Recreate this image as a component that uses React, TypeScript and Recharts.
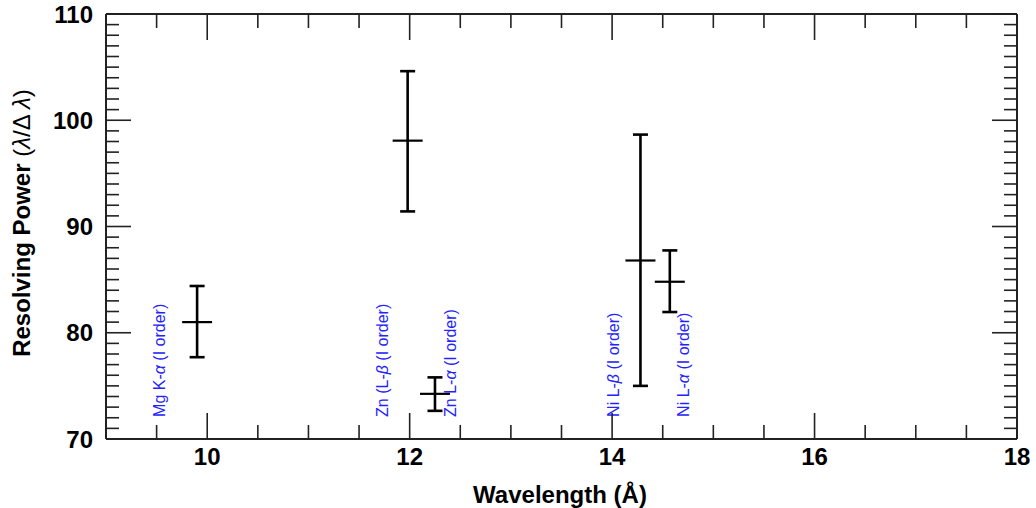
import { ComposedChart, Scatter, XAxis, YAxis, ErrorBar } from 'recharts';

// measured lines
const wavelengths = [9.9, 11.98, 12.25, 14.28, 14.57];
const resolvingPower = [81.0, 98.08, 74.25, 86.8, 84.8];
const errLow = [3.3, 6.66, 1.6, 11.8, 2.85];
const errHigh = [3.4, 6.54, 1.55, 11.85, 2.95];

// line identification labels (rotated, blue)
const labelNames = ['Mg K-|α| (I order)', 'Zn (L-|β| (I order)', 'Zn L-|α| (I order)', 'Ni L-|β| (I order)', 'Ni L-|α| (I order)'];
const labelX = [9.58, 11.79, 12.46, 14.07, 14.76];
const labelY = [72.08, 72.08, 72.08, 72.08, 72.08];

const xTicks = [9, 9.5, 10, 10.5, 11, 11.5, 12, 12.5, 13, 13.5, 14, 14.5, 15, 15.5, 16, 16.5, 17, 17.5, 18];
const xMajor = [10, 12, 14, 16, 18];
const yTicks = [70, 71, 72, 73, 74, 75, 76, 77, 78, 79, 80, 81, 82, 83, 84, 85, 86, 87, 88, 89, 90, 91, 92, 93, 94, 95, 96, 97, 98, 99, 100, 101, 102, 103, 104, 105, 106, 107, 108, 109, 110];
const yMajor = [70, 80, 90, 100, 110];

const points = wavelengths.map((x, i) => ({
  x,
  y: resolvingPower[i],
  err: [errLow[i], errHigh[i]],
}));

const labels = labelNames.map((name, i) => ({ x: labelX[i], y: labelY[i], name }));

const FONT = 'Liberation Sans, Arial, Helvetica, sans-serif';
const AXIS = '#222';

const BottomTick = ({ x, y, payload }: any) => {
  const major = xMajor.includes(payload.value);
  return (
    <g>
      <line x1={x} y1={y} x2={x} y2={y - (major ? 26 : 14)} stroke={AXIS} strokeWidth={1.6} />
      {major && payload.value !== 9 && (
        <text x={x} y={y + 26} textAnchor="middle" fontFamily={FONT} fontWeight="bold" fontSize={24} fill="#000">
          {payload.value}
        </text>
      )}
    </g>
  );
};

const TopTick = ({ x, y, payload }: any) => {
  const major = xMajor.includes(payload.value);
  return <line x1={x} y1={y} x2={x} y2={y + (major ? 26 : 14)} stroke={AXIS} strokeWidth={1.6} />;
};

const LeftTick = ({ x, y, payload }: any) => {
  const major = yMajor.includes(payload.value);
  return (
    <g>
      <line x1={x} y1={y} x2={x + (major ? 25 : 13)} y2={y} stroke={AXIS} strokeWidth={1.6} />
      {major && (
        <text x={x - 13} y={y + 8.5} textAnchor="end" fontFamily={FONT} fontWeight="bold" fontSize={24} fill="#000">
          {payload.value}
        </text>
      )}
    </g>
  );
};

const RightTick = ({ x, y, payload }: any) => {
  const major = yMajor.includes(payload.value);
  return <line x1={x} y1={y} x2={x - (major ? 25 : 13)} y2={y} stroke={AXIS} strokeWidth={1.6} />;
};

const XTitle = ({ viewBox }: any) => (
  <text x={560} y={viewBox.y + 64} textAnchor="middle" fontFamily={FONT} fontWeight="bold" fontSize={24} fill="#000">
    Wavelength (Å)
  </text>
);

const YTitle = ({ viewBox }: any) => {
  const cx = 30;
  const cy = viewBox.y + 209;
  return (
    <text x={cx} y={cy} transform={`rotate(-90, ${cx}, ${cy})`} textAnchor="middle" fontFamily={FONT} fontSize={24} fill="#000">
      <tspan fontWeight="bold">Resolving Power </tspan>
      <tspan>(</tspan>
      <tspan fontStyle="italic">λ</tspan>
      <tspan>/Δ </tspan>
      <tspan fontStyle="italic">λ</tspan>
      <tspan>)</tspan>
    </text>
  );
};

const CenterMark = (props: any) => (
  <line x1={props.cx - 15} y1={props.cy} x2={props.cx + 15} y2={props.cy} stroke="#000" strokeWidth={2.2} />
);

const LineLabel = (props: any) => {
  const parts = String(props.payload.name).split('|');
  return (
    <text
      x={props.cx}
      y={props.cy}
      transform={`rotate(-90, ${props.cx}, ${props.cy})`}
      fontFamily={FONT}
      fontSize={16}
      fill="#2323ff"
    >
      {parts[0]}
      <tspan fontStyle="italic">{parts[1]}</tspan>
      {parts[2]}
    </text>
  );
};

export default function App() {
  return (
    <div style={{ position: 'absolute', left: 0, top: 0, background: '#fff' }}>
      <ComposedChart width={1036} height={508} margin={{ top: 0, right: 0, bottom: 0, left: 0 }}>
        <XAxis
          xAxisId="bottom"
          dataKey="x"
          type="number"
          domain={[9, 18]}
          allowDataOverflow
          ticks={xTicks}
          interval={0}
          height={69}
          tickSize={0}
          tickMargin={0}
          tickLine={false}
          axisLine={{ stroke: AXIS, strokeWidth: 2 }}
          tick={<BottomTick />}
          label={<XTitle />}
        />
        <XAxis
          xAxisId="top"
          orientation="top"
          dataKey="x"
          type="number"
          domain={[9, 18]}
          allowDataOverflow
          ticks={xTicks}
          interval={0}
          height={14}
          tickSize={0}
          tickMargin={0}
          tickLine={false}
          axisLine={{ stroke: AXIS, strokeWidth: 2 }}
          tick={<TopTick />}
        />
        <YAxis
          yAxisId="left"
          dataKey="y"
          type="number"
          domain={[70, 110]}
          allowDataOverflow
          ticks={yTicks}
          interval={0}
          width={106}
          tickSize={0}
          tickMargin={0}
          tickLine={false}
          axisLine={{ stroke: AXIS, strokeWidth: 2 }}
          tick={<LeftTick />}
          label={<YTitle />}
        />
        <YAxis
          yAxisId="right"
          orientation="right"
          dataKey="y"
          type="number"
          domain={[70, 110]}
          allowDataOverflow
          ticks={yTicks}
          interval={0}
          width={19}
          tickSize={0}
          tickMargin={0}
          tickLine={false}
          axisLine={{ stroke: AXIS, strokeWidth: 2 }}
          tick={<RightTick />}
        />
        <Scatter
          data={labels}
          xAxisId="bottom"
          yAxisId="left"
          shape={<LineLabel />}
          isAnimationActive={false}
        />
        <Scatter
          data={labels}
          xAxisId="top"
          yAxisId="right"
          shape={() => null}
          isAnimationActive={false}
        />
        <Scatter
          data={points}
          xAxisId="bottom"
          yAxisId="left"
          shape={<CenterMark />}
          isAnimationActive={false}
        >
          <ErrorBar dataKey="err" direction="y" width={7.5} stroke="#000" strokeWidth={2.6} />
        </Scatter>
      </ComposedChart>
    </div>
  );
}
